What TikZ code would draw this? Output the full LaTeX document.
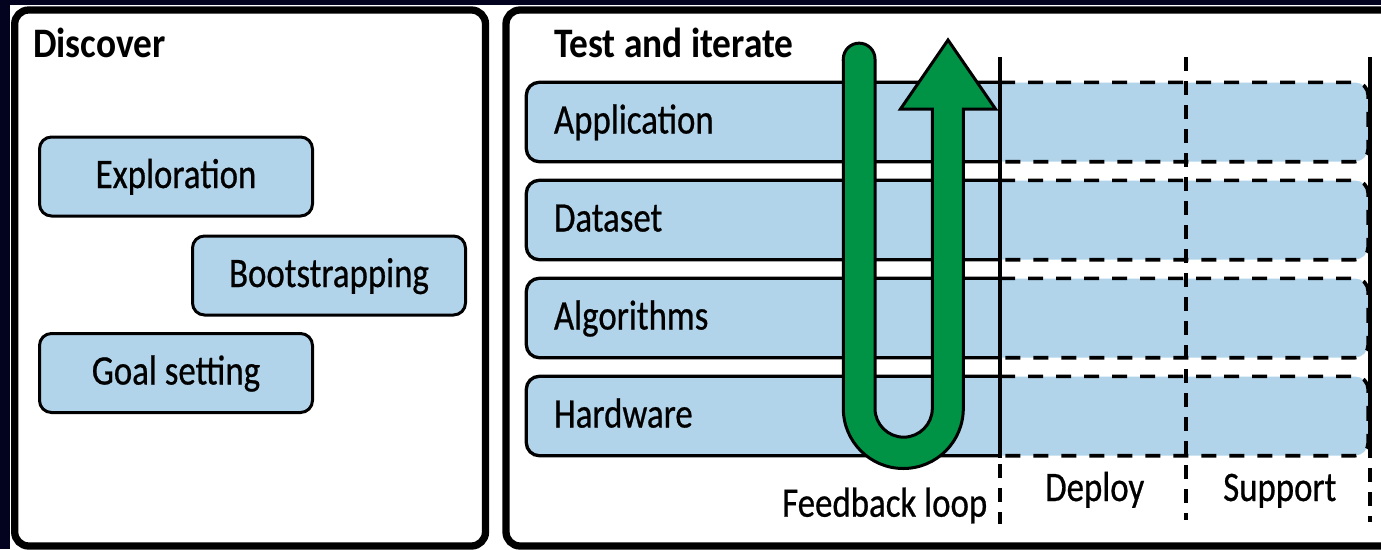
\documentclass[tikz,border=0pt]{standalone}
\usepackage{fontspec}
\setmainfont[FakeStretch=0.83,FakeBold=0.6]{Carlito}
\newfontfamily\headfont[FakeStretch=0.89]{Carlito}
\newcommand\lblsize{\fontsize{42}{48}\selectfont}
\definecolor{navy}{HTML}{03031F}
\definecolor{cellblue}{HTML}{B2D4EA}
\definecolor{loopgreen}{HTML}{009245}
\tikzset{
  panel/.style={draw=black, line width=7.3pt, fill=white, rounded corners=14pt},
  title/.style={anchor=base west, inner sep=0pt, font=\headfont\bfseries\lblsize},
  caption/.style={anchor=base west, inner sep=0pt, font=\lblsize},
  stagebox/.style={draw=black, line width=3pt, fill=cellblue, rounded corners=12pt,
    inner sep=0pt, text height=23pt, text depth=0pt, font=\lblsize,
    minimum width=273pt, minimum height=79pt},
  rowcell/.style={fill=cellblue, rounded corners=13pt, inner ysep=0pt, inner xsep=0pt,
    text height=23pt, text depth=0pt, font=\lblsize, align=left, text width=786.5pt,
    minimum width=841.5pt, minimum height=79pt},
  solidedge/.style={draw=black, line width=3.3pt, rounded corners=13pt},
  dashedge/.style={draw=black, line width=3.6pt, rounded corners=13pt, dash pattern=on 15pt off 13pt},
  vdash/.style={draw=black, line width=3.6pt, dash pattern=on 14pt off 10pt},
  loop/.style={fill=loopgreen, draw=black, line width=3pt, line join=miter}
}
\begin{document}
\begin{tikzpicture}[x=1pt, y=-1pt]
\useasboundingbox (0,0) rectangle (1381,549);
\clip (0,0) rectangle (1381,549);
% backdrop
\fill[navy] (0,0) rectangle (1381,549);
\fill[white] (10,4.5) rectangle (1381,549);

% the two stage panels
\draw[panel] (14.7,10) rectangle (485.5,546);
\draw[panel] (506,10) rectangle (1420,546);

% Discover stage
\node[title] (discover) at (33,57.3) {Discover};
\node[stagebox] (explore) at (176,176.5) {Exploration};
\node[stagebox] (boot) at (329,275.5) {Bootstrapping};
\node[stagebox] (goal) at (176,373) {Goal setting};

% Test and iterate stage
\node[title] (test) at (554,57.3) {Test and iterate};
\node[rowcell] (app) at (947.25,122) {Application};
\node[rowcell] (data) at (947.25,220) {Dataset};
\node[rowcell] (algo) at (947.25,318) {Algorithms};
\node[rowcell] (hw) at (947.25,416) {Hardware};

% column boundaries
\coordinate (split) at (1000,0);
\coordinate (c1top) at (1000,57);
\coordinate (c1mid) at (1000,458);
\coordinate (c1end) at (1000,524);
\coordinate (c2top) at (1186,57);
\coordinate (c2end) at (1186,520);
\coordinate (c3top) at (1370,57);
\coordinate (c3mid) at (1370,458);
\coordinate (c3end) at (1370,522);

\foreach \r in {app,data,algo,hw}{
  \draw[dashedge] (split |- \r.north) -- (\r.north east) -- (\r.south east) -- (split |- \r.south);
  \draw[solidedge] (split |- \r.north) -- (\r.north west) -- (\r.south west) -- (split |- \r.south);
}
\draw[vdash] (c2top) -- (c2end);
\draw[solidedge] (c1top) -- (c1mid);
\draw[vdash, dash phase=-6pt] (c1mid) -- (c1end);
\draw[solidedge] (c3top) -- (c3mid);
\draw[vdash, dash phase=-10pt] (c3mid) -- (c3end);

% feedback loop arrow
\draw[loop] (843.3,59) -- (843.3,408.5)
  arc[start angle=180, end angle=0, radius=60]
  -- (963.3,109) -- (995.5,109) -- (948,40) -- (900.5,109) -- (932.3,109)
  -- (932.3,408.5)
  arc[start angle=0, end angle=180, radius=28.65]
  -- (875,59)
  arc[start angle=0, end angle=-180, radius=15.85] -- cycle;

% column captions
\node[caption] (fb) at (782,516.7) {Feedback loop};
\node[caption] (deploy) at (1045,501) {Deploy};
\node[caption] (support) at (1223,501) {Support};
\end{tikzpicture}
\end{document}
